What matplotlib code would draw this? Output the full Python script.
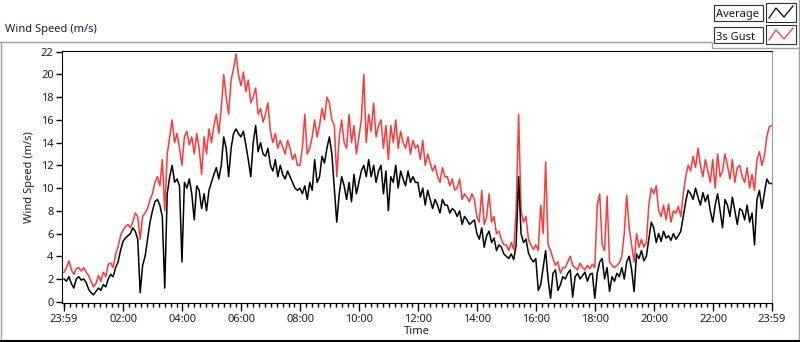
import numpy as np
import matplotlib.pyplot as plt
from matplotlib.lines import Line2D
from matplotlib.patches import Rectangle

# 5-minute samples, one row per hour, starting at 23:59
avg_rows = [
    [2.0, 1.8, 2.2, 1.6, 1.2, 2.0, 2.2, 1.9, 2.0, 1.7, 1.1, 0.8],
    [0.6, 0.9, 1.2, 1.0, 1.5, 1.3, 2.0, 2.4, 2.2, 3.0, 3.5, 4.5],
    [5.3, 5.6, 5.8, 6.0, 6.5, 6.2, 5.5, 0.8, 3.2, 4.0, 5.5, 7.0],
    [8.0, 8.8, 9.0, 8.5, 7.5, 1.2, 9.5, 11.0, 12.0, 10.5, 10.8, 10.2],
    [3.5, 10.5, 10.0, 10.8, 9.5, 7.2, 10.2, 9.8, 8.2, 9.5, 8.0, 9.8],
    [10.5, 11.2, 11.8, 10.8, 12.0, 14.5, 13.5, 11.0, 13.5, 14.8, 15.2, 14.8],
    [14.5, 15.0, 13.8, 12.5, 11.0, 14.0, 15.5, 13.2, 14.0, 13.0, 12.8, 13.5],
    [12.0, 11.5, 12.5, 11.0, 12.0, 11.2, 10.8, 11.5, 11.0, 10.5, 10.0, 9.8],
    [10.0, 9.5, 10.2, 9.0, 10.5, 9.8, 12.5, 10.5, 11.0, 12.8, 12.2, 13.5],
    [14.5, 13.0, 10.0, 7.0, 9.5, 11.0, 10.2, 9.0, 10.5, 8.8, 11.2, 9.5],
    [10.5, 11.5, 12.0, 11.0, 12.5, 11.0, 12.0, 10.5, 11.5, 12.0, 9.5, 11.5],
    [8.0, 11.0, 10.5, 12.0, 10.0, 11.5, 10.8, 10.2, 11.5, 10.5, 11.0, 10.5],
    [10.5, 9.2, 10.0, 8.5, 9.8, 9.0, 8.2, 9.0, 8.5, 7.8, 9.0, 8.5],
    [8.5, 7.8, 8.2, 8.0, 7.5, 8.0, 6.8, 7.5, 7.2, 6.8, 7.0, 7.2],
    [6.0, 5.5, 6.5, 4.8, 5.8, 6.2, 5.2, 5.6, 4.5, 5.0, 4.8, 4.2],
    [4.0, 3.8, 4.2, 3.7, 5.0, 11.0, 6.0, 5.2, 5.5, 4.3, 3.8, 3.5],
    [3.8, 1.0, 1.5, 3.0, 4.5, 2.0, 0.3, 2.5, 2.8, 1.0, 1.5, 2.2],
    [2.0, 2.5, 2.8, 0.4, 2.2, 2.5, 2.0, 2.3, 2.6, 1.8, 2.4, 2.5],
    [0.3, 2.5, 3.5, 3.8, 2.0, 3.0, 0.9, 2.2, 1.8, 2.5, 2.2, 3.0],
    [2.0, 3.5, 4.0, 2.8, 0.9, 4.2, 3.8, 4.5, 3.6, 4.0, 5.5, 7.0],
    [6.5, 5.2, 6.0, 5.3, 6.2, 5.6, 5.8, 5.4, 6.0, 5.5, 5.8, 6.2],
    [7.5, 8.8, 9.8, 9.5, 9.0, 10.0, 9.2, 8.5, 9.6, 8.8, 9.4, 8.0],
    [7.0, 8.5, 9.5, 8.0, 6.5, 9.0, 8.5, 7.5, 9.2, 8.0, 6.8, 8.2],
    [8.0, 7.2, 8.5, 7.0, 7.8, 5.0, 9.0, 9.8, 8.2, 9.5, 10.8, 10.4],
    [10.4],
]
gust_rows = [
    [2.6, 3.0, 3.6, 2.8, 2.4, 2.9, 3.0, 2.7, 3.0, 2.6, 2.3, 1.8],
    [1.3, 1.6, 2.3, 1.8, 2.6, 2.2, 3.3, 3.4, 3.0, 4.2, 4.8, 5.8],
    [6.3, 6.6, 6.8, 6.5, 7.0, 7.8, 7.5, 5.5, 7.5, 7.8, 8.2, 9.0],
    [9.5, 10.5, 11.0, 10.2, 12.5, 8.0, 13.0, 14.5, 16.0, 14.0, 14.8, 13.5],
    [12.0, 14.5, 15.0, 13.8, 14.5, 13.0, 14.8, 13.5, 11.2, 14.5, 13.0, 15.2],
    [14.0, 15.5, 16.5, 14.8, 17.0, 20.0, 18.0, 16.5, 19.5, 20.5, 21.8, 20.0],
    [19.0, 20.2, 18.5, 19.5, 17.5, 18.0, 18.8, 16.5, 17.0, 15.8, 16.5, 17.5],
    [15.0, 14.0, 14.8, 13.5, 14.2, 13.6, 13.0, 14.2, 13.5, 12.5, 13.0, 12.0],
    [12.0, 13.5, 16.5, 13.0, 13.5, 14.5, 16.0, 14.5, 15.5, 17.0, 16.0, 18.0],
    [17.5, 16.0, 15.5, 11.0, 14.5, 16.0, 14.0, 13.5, 16.5, 14.0, 15.5, 13.0],
    [14.5, 16.0, 20.0, 14.0, 16.5, 15.0, 17.5, 14.5, 15.5, 16.0, 13.5, 15.5],
    [12.5, 15.5, 14.0, 16.0, 13.5, 15.0, 14.0, 13.5, 14.5, 13.0, 14.2, 13.5],
    [13.8, 12.5, 14.2, 12.0, 13.0, 12.2, 11.5, 12.0, 11.0, 10.5, 11.8, 11.0],
    [11.0, 10.2, 10.8, 9.8, 10.0, 10.8, 9.0, 9.5, 9.2, 8.8, 9.5, 9.0],
    [7.5, 7.0, 9.8, 6.8, 7.5, 9.5, 7.0, 7.5, 6.0, 6.2, 5.5, 5.0],
    [5.0, 4.5, 5.2, 4.6, 8.0, 16.5, 8.0, 7.0, 7.5, 5.5, 5.0, 4.6],
    [5.0, 4.5, 8.5, 6.0, 12.3, 5.0, 4.5, 3.8, 3.2, 3.5, 2.5, 3.0],
    [3.0, 3.5, 4.0, 3.2, 3.0, 2.8, 3.4, 3.0, 2.8, 3.2, 2.9, 3.3],
    [3.0, 8.5, 9.5, 5.0, 4.5, 9.3, 3.5, 3.2, 3.0, 3.2, 3.4, 4.0],
    [6.0, 9.4, 6.5, 5.0, 3.5, 6.0, 4.8, 5.5, 4.8, 5.2, 8.5, 10.0],
    [9.5, 10.2, 8.0, 7.5, 8.5, 7.2, 8.6, 7.0, 8.0, 7.8, 8.4, 7.5],
    [9.5, 11.0, 12.0, 11.5, 12.8, 11.8, 13.5, 12.0, 11.0, 12.5, 11.5, 10.5],
    [12.5, 10.0, 13.0, 11.0, 11.5, 13.0, 12.0, 10.8, 12.5, 10.5, 11.8, 12.0],
    [11.0, 10.5, 11.8, 10.0, 11.2, 9.8, 12.5, 13.2, 12.0, 12.8, 14.5, 15.4],
    [15.5],
]
avg = np.concatenate(avg_rows)
gust = np.concatenate(gust_rows)
minutes = np.arange(len(avg)) * 5          # minutes after 23:59
hours = minutes / 60.0

tick_labels = ["23:59", "02:00", "04:00", "06:00", "08:00", "10:00",
               "12:00", "14:00", "16:00", "18:00", "20:00", "22:00", "23:59"]
tick_pos = [0] + [h + 1 / 60 for h in range(2, 24, 2)] + [24]
y_ticks = list(range(0, 23, 2))

plt.rcParams["font.family"] = ["Noto Sans", "DejaVu Sans"]
W, H = 800, 342
fig = plt.figure(figsize=(W / 100, H / 100), dpi=100)


def px(x, y):
    return x / W, 1 - y / H


def fig_line(xs, ys, color, lw=1.0):
    pts = [px(x, y) for x, y in zip(xs, ys)]
    fig.add_artist(Line2D([p[0] for p in pts], [p[1] for p in pts],
                          transform=fig.transFigure, color=color, lw=lw))


ax = fig.add_axes([62 / W, 1 - 303 / H, (772 - 62) / W, (303 - 51) / H])
ax.plot(hours, gust, color="#ff3838", lw=1.1)
ax.plot(hours, avg, color="black", lw=1.1)
ax.set_xlim(-2 / 29.5, 24 + 0.3 / 29.5)
ax.set_ylim(-1.3 / 11.36, 22 + 0.7 / 11.36)

ax.set_xticks(tick_pos)
ax.set_xticklabels(tick_labels)
ax.set_xticks([1 / 60 + 0.2 * k for k in range(120)], minor=True)
ax.set_yticks(y_ticks)
ax.tick_params(axis="x", which="major", length=6, width=1, pad=2,
               labelsize=8, labelcolor="#1a1a3a")
ax.tick_params(axis="x", which="minor", length=3, width=1)
ax.tick_params(axis="y", length=4, width=1, pad=2, labelsize=8,
               labelcolor="#1a1a3a")
ax.spines["right"].set_color("#9a9a9a")
for s in ["left", "top", "bottom"]:
    ax.spines[s].set_color("black")
ax.set_xlabel("Time", fontsize=8, labelpad=1, color="#1a1a3a")
ax.set_ylabel("Wind Speed (m/s)", fontsize=8, labelpad=4, color="#1a1a3a")

# panel frame and title
fig.text(*px(5, 32), "Wind Speed (m/s)", fontsize=8, color="#1a1a3a",
         va="baseline")
fig_line([0, 712, 712, 800], [42, 42, 48, 48], "#a0a0a0")
fig_line([1, 1], [42, 340], "#a0a0a0")
fig_line([799, 799], [0, 340], "#a0a0a0")
fig_line([0, 800], [340.5, 340.5], "black", lw=1.5)

# legend
for i, (name, col) in enumerate([("Average", "black"), ("3s Gust", "#ff3838")]):
    y0 = 5 + 22 * i
    fig.add_artist(Rectangle(px(714, y0 + 16), 49 / W, 16 / H,
                             transform=fig.transFigure, fill=False,
                             edgecolor="#303030", lw=0.8))
    fig.text(*px(716, y0 + 12.5), name, fontsize=8, color="#101030",
             va="baseline")
    fig.add_artist(Rectangle(px(766, y0 + 17), 30 / W, 19 / H,
                             transform=fig.transFigure, fill=False,
                             edgecolor="#303030", lw=0.8))
    fig_line([769, 776, 784, 793], [y0 + 13, y0 + 3, y0 + 12, y0 + 1], col, lw=0.9)

fig.savefig("out.png", dpi=100)
